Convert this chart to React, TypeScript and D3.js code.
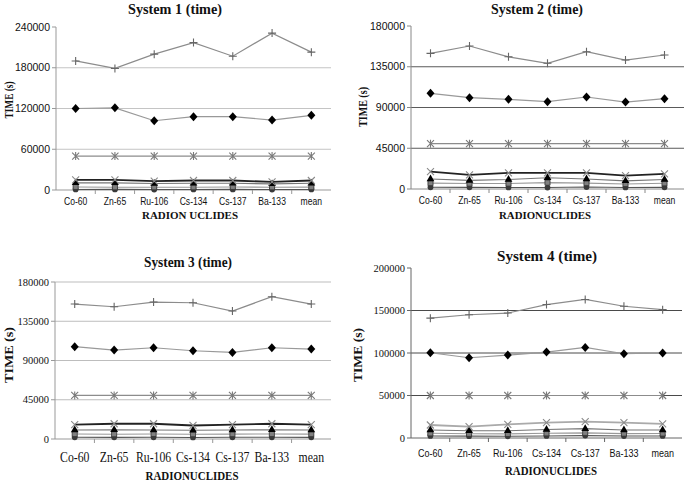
import React from "react";
import * as d3 from "d3";

const categories = ["Co-60", "Zn-65", "Ru-106", "Cs-134", "Cs-137", "Ba-133", "mean"];

// System 1
const s1Plus = [190000, 179000, 200000, 217000, 197000, 231000, 203000];
const s1Diamond = [120000, 121000, 102000, 108000, 108000, 103000, 110000];
const s1Star = [50000, 50000, 50000, 50000, 50000, 50000, 50000];
const s1Cross = [15000, 15000, 13000, 14000, 14000, 12000, 14000];
const s1Triangle = [10500, 10500, 9500, 10000, 10000, 9000, 10000];
const s1Square = [4500, 4000, 4000, 4000, 4500, 4000, 4200];
const s1Circle = [800, 900, 700, 800, 900, 700, 800];

// System 2
const s2Plus = [149800, 157900, 146000, 138800, 151600, 142400, 148000];
const s2Diamond = [105700, 100800, 99000, 96400, 101600, 96000, 99700];
const s2Star = [50000, 50000, 50000, 50000, 50000, 50000, 50000];
const s2Cross = [19100, 15500, 17700, 17700, 17700, 14700, 16600];
const s2Triangle = [11000, 9500, 10500, 12500, 11000, 9000, 10500];
const s2Square = [6500, 6000, 6000, 7000, 6500, 5500, 6300];
const s2Circle = [1900, 1800, 1700, 1600, 2200, 1700, 1800];

// System 3
const s3Plus = [154700, 151600, 157000, 156200, 146700, 163100, 154700];
const s3Diamond = [105800, 102000, 104600, 101200, 99300, 104600, 103100];
const s3Star = [50000, 50000, 50000, 50000, 50000, 50000, 50000];
const s3Cross = [16500, 17500, 17500, 15500, 16500, 17500, 16500];
const s3Triangle = [10300, 10500, 10300, 10000, 10300, 10500, 10300];
const s3Square = [5700, 5500, 5800, 5500, 5600, 5700, 5600];
const s3Circle = [2000, 1900, 2000, 1800, 2000, 2000, 1900];

// System 4
const s4Plus = [141000, 145000, 147000, 157000, 163000, 155000, 151000];
const s4Diamond = [100300, 94400, 97600, 101100, 106600, 99100, 100000];
const s4Star = [50000, 50000, 50000, 50000, 50000, 50000, 50000];
const s4Cross = [15300, 13300, 16100, 18000, 19200, 18000, 16500];
const s4Triangle = [9400, 8500, 8500, 10000, 11000, 9500, 9500];
const s4Square = [5500, 5000, 4800, 5500, 6000, 5200, 5300];
const s4Circle = [2400, 2200, 2000, 2400, 2800, 2300, 2400];

const s1Ticks = [0, 60000, 120000, 180000, 240000];
const s2Ticks = [0, 45000, 90000, 135000, 180000];
const s3Ticks = [0, 45000, 90000, 135000, 180000];
const s4Ticks = [0, 50000, 100000, 150000, 200000];

const SERIF = "'Liberation Serif', 'Times New Roman', serif";
const SANS = "'Liberation Sans', Arial, sans-serif";

type SeriesStyle = { key: string; line: string; lw: number; marker: string };
const seriesStyles: SeriesStyle[] = [
  { key: "plus", line: "#8c8c8c", lw: 1.2, marker: "plus" },
  { key: "diamond", line: "#999", lw: 1.2, marker: "diamond" },
  { key: "star", line: "#8c8c8c", lw: 1.2, marker: "star" },
  { key: "cross", line: "#222", lw: 1.8, marker: "cross" },
  { key: "triangle", line: "#777", lw: 1.1, marker: "triangle" },
  { key: "square", line: "#999", lw: 1.1, marker: "square" },
  { key: "circle", line: "#555", lw: 1.1, marker: "circle" },
];

type Panel = {
  title: string;
  series: number[][];
  ticks: number[];
  left: number;
  right: number;
  top: number;
  bottom: number;
  grid: string;
  gridTop: boolean;
  axis: string;
  titleX: number;
  titleY: number;
  titleLen: number;
  yLabX: number;
  yLabY: number;
  yLabLen: number;
  xLab: string;
  xLabX: number;
  xLabY: number;
  xLabLen: number;
  xLabSize: number;
  tickFont: string;
  tickSize: number;
  tickY: number;
  tickSx: number;
  yTickFont: string;
  yTickSize: number;
  crossLine?: string;
};

const panels: Panel[] = [
  {
    title: "System 1 (time)",
    series: [s1Plus, s1Diamond, s1Star, s1Cross, s1Triangle, s1Square, s1Circle],
    ticks: s1Ticks,
    left: 56, right: 331, top: 27, bottom: 190,
    grid: "#c4c4c4", gridTop: false, axis: "#999",
    titleX: 175, titleY: 14, titleLen: 94,
    yLabX: 13, yLabY: 100, yLabLen: 37,
    xLab: "RADION UCLIDES", xLabX: 190, xLabY: 219, xLabLen: 96, xLabSize: 10.5,
    tickFont: SANS, tickSize: 10, tickY: 205, tickSx: 0.86,
    yTickFont: SANS, yTickSize: 10.5,
  },
  {
    title: "System 2 (time)",
    series: [s2Plus, s2Diamond, s2Star, s2Cross, s2Triangle, s2Square, s2Circle],
    ticks: s2Ticks,
    left: 411, right: 684, top: 26, bottom: 189,
    grid: "#5a5a5a", gridTop: false, axis: "#888",
    titleX: 537, titleY: 14, titleLen: 92,
    yLabX: 367, yLabY: 107, yLabLen: 40,
    xLab: "RADIONUCLIDES", xLabX: 545, xLabY: 219, xLabLen: 92, xLabSize: 10.5,
    tickFont: SANS, tickSize: 10, tickY: 204, tickSx: 0.86,
    yTickFont: SANS, yTickSize: 10.5,
  },
  {
    title: "System 3 (time)",
    series: [s3Plus, s3Diamond, s3Star, s3Cross, s3Triangle, s3Square, s3Circle],
    ticks: s3Ticks,
    left: 55, right: 331, top: 282, bottom: 439,
    grid: "#bdbdbd", gridTop: true, axis: "#999",
    titleX: 188, titleY: 267, titleLen: 88,
    yLabX: 13, yLabY: 355, yLabLen: 56,
    xLab: "RADIONUCLIDES", xLabX: 192, xLabY: 480, xLabLen: 93, xLabSize: 12,
    tickFont: SERIF, tickSize: 14, tickY: 462, tickSx: 0.84,
    yTickFont: SERIF, yTickSize: 10.5,
  },
  {
    title: "System 4 (time)",
    series: [s4Plus, s4Diamond, s4Star, s4Cross, s4Triangle, s4Square, s4Circle],
    ticks: s4Ticks,
    left: 411, right: 682, top: 268, bottom: 438,
    grid: "#4a4a4a", gridTop: false, axis: "#666",
    titleX: 547, titleY: 261, titleLen: 100,
    yLabX: 362, yLabY: 355, yLabLen: 54,
    xLab: "RADIONUCLIDES", xLabX: 551, xLabY: 475, xLabLen: 92, xLabSize: 12,
    tickFont: SANS, tickSize: 11, tickY: 457, tickSx: 0.82,
    yTickFont: SERIF, yTickSize: 10.5,
    crossLine: "#aaa",
  },
];

function Marker({ type, x, y }: { type: string; x: number; y: number }) {
  const t = `translate(${x},${y})`;
  switch (type) {
    case "plus":
      return <path transform={t} d="M-4,0H4M0,-4V4" stroke="#666" strokeWidth={1.1} fill="none" />;
    case "cross":
      return <path transform={t} d="M-3.5,-3.5L3.5,3.5M-3.5,3.5L3.5,-3.5" stroke="#8a8a8a" strokeWidth={1.1} fill="none" />;
    case "star":
      return <path transform={t} d="M-3.5,-3.5L3.5,3.5M-3.5,3.5L3.5,-3.5M0,-4V4" stroke="#7a7a7a" strokeWidth={1.1} fill="none" />;
    case "diamond":
      return <path transform={t} d="M0,-4.5L4,0L0,4.5L-4,0Z" fill="#000" />;
    case "triangle":
      return <path transform={t} d={d3.symbol(d3.symbolTriangle, 26)()!} fill="#000" />;
    case "square":
      return <path transform={t} d={d3.symbol(d3.symbolSquare, 26)()!} fill="#808080" stroke="#333" strokeWidth={0.8} />;
    case "circle":
      return <path transform={t} d={d3.symbol(d3.symbolCircle, 26)()!} fill="#3a3a3a" />;
  }
  return null;
}

function ChartPanel({ p }: { p: Panel }) {
  const x = d3.scaleBand<string>().domain(categories).range([p.left, p.right]).padding(0);
  const yMax = p.ticks[p.ticks.length - 1];
  const y = d3.scaleLinear().domain([0, yMax]).range([p.bottom, p.top]);
  const cx = (c: string) => (x(c) ?? 0) + x.bandwidth() / 2;
  const line = d3
    .line<number>()
    .x((_, i) => cx(categories[i]))
    .y((v) => y(v));
  const bounds = categories.map((c) => x(c) ?? 0).concat([p.right]);

  return (
    <g>
      {p.ticks
        .filter((t) => t > 0 && (p.gridTop || t < yMax))
        .map((t) => (
          <line key={"g" + t} x1={p.left} x2={p.right} y1={y(t)} y2={y(t)} stroke={p.grid} strokeWidth={1} />
        ))}
      <line x1={p.left} x2={p.left} y1={p.top} y2={p.bottom} stroke={p.axis} strokeWidth={1} />
      <line x1={p.left} x2={p.right} y1={p.bottom} y2={p.bottom} stroke={p.axis} strokeWidth={1} />
      {p.ticks.map((t) => (
        <g key={"yt" + t}>
          <line x1={p.left - 4} x2={p.left} y1={y(t)} y2={y(t)} stroke={p.axis} />
          <text
            x={p.left - 6}
            y={y(t)}
            dy="0.35em"
            textAnchor="end"
            fontFamily={p.yTickFont}
            fontSize={p.yTickSize}
            fill="#111"
          >
            {t}
          </text>
        </g>
      ))}
      {bounds.slice(1, -1).map((b, i) => (
        <line key={"xt" + i} x1={b} x2={b} y1={p.bottom} y2={p.bottom + 4} stroke={p.axis} />
      ))}
      {categories.map((c) => (
        <text
          key={"xl" + c}
          transform={`translate(${cx(c)},${p.tickY}) scale(${p.tickSx},1)`}
          textAnchor="middle"
          fontFamily={p.tickFont}
          fontSize={p.tickSize}
          fill="#111"
        >
          {c}
        </text>
      ))}
      {p.series.map((vals, si) => {
        const st = seriesStyles[si];
        const col = st.key === "cross" && p.crossLine ? p.crossLine : st.line;
        return <path key={"l" + si} d={line(vals)!} fill="none" stroke={col} strokeWidth={st.lw} />;
      })}
      {p.series
        .map((vals, si) => ({ vals, si }))
        .reverse()
        .map(({ vals, si }) => (
          <g key={"m" + si}>
            {vals.map((v, i) => (
              <Marker key={i} type={seriesStyles[si].marker} x={cx(categories[i])} y={y(v)} />
            ))}
          </g>
        ))}
      <text
        x={p.titleX}
        y={p.titleY}
        textAnchor="middle"
        fontFamily={SERIF}
        fontWeight="bold"
        fontSize={14}
        textLength={p.titleLen}
        lengthAdjust="spacingAndGlyphs"
        fill="#111"
      >
        {p.title}
      </text>
      <text
        transform={`translate(${p.yLabX},${p.yLabY}) rotate(-90)`}
        textAnchor="middle"
        fontFamily={SERIF}
        fontWeight="bold"
        fontSize={13}
        textLength={p.yLabLen}
        lengthAdjust="spacingAndGlyphs"
        fill="#111"
      >
        TIME (s)
      </text>
      <text
        x={p.xLabX}
        y={p.xLabY}
        textAnchor="middle"
        fontFamily={SERIF}
        fontWeight="bold"
        fontSize={p.xLabSize}
        textLength={p.xLabLen}
        lengthAdjust="spacingAndGlyphs"
        fill="#111"
      >
        {p.xLab}
      </text>
    </g>
  );
}

export default function App() {
  return (
    <svg
      width={685}
      height={484}
      viewBox="0 0 685 484"
      style={{ position: "absolute", left: 0, top: 0, background: "#fff" }}
    >
      <rect x={0} y={0} width={685} height={484} fill="#fff" />
      {panels.map((p, i) => (
        <ChartPanel key={i} p={p} />
      ))}
    </svg>
  );
}
